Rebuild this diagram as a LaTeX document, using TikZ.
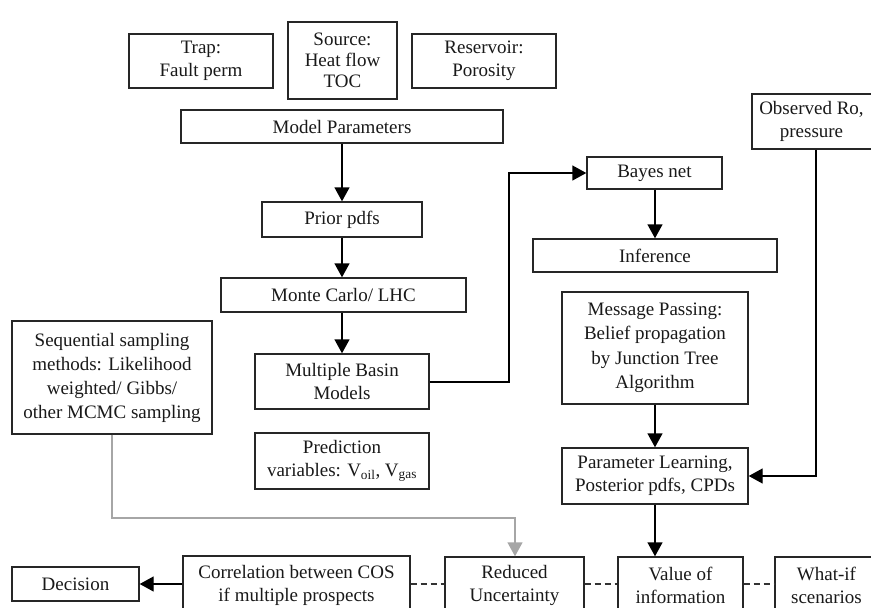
\documentclass[tikz,border=0pt]{standalone}
\usepackage{fontspec}
\setmainfont{Liberation Serif}
\usetikzlibrary{arrows.meta}
\tikzset{
  box/.style={draw=black!85, line width=1.4pt, fill=white, rectangle, inner sep=0pt, align=center,
    font=\fontsize{19}{23}\selectfont, text=black!90},
  arr/.style={draw=black, line width=1.4pt, -{Triangle[width=15pt,length=14pt]}},
  garr/.style={draw=black!35, line width=1.4pt, -{Triangle[width=15pt,length=14pt]}},
  dashln/.style={draw=black!80, line width=1.4pt, dash pattern=on 6pt off 4pt},
}
\newcommand{\bx}[7]{% name, x1, y1, x2, y2, extra, text
  \node[box, #6, minimum width={(#4)-(#2)}, minimum height={(#5)-(#3)}] (#1) at ({((#2)+(#4))/2},{((#3)+(#5))/2}) {#7};}
\begin{document}
\begin{tikzpicture}[x=1pt,y=-1pt]
\useasboundingbox (0,0) rectangle (871,608);
\clip (0,0) rectangle (871,608);
\bx{trap}{129}{34}{273}{88}{}{Trap:\\Fault perm}
\bx{source}{288}{22}{397}{99}{font=\fontsize{19}{21}\selectfont}{Source:\\Heat flow\\TOC}
\bx{reservoir}{412}{34}{556}{88}{}{Reservoir:\\Porosity}
\bx{model}{181}{110}{503}{143}{}{Model Parameters}
\bx{prior}{262}{202}{422}{237}{}{Prior pdfs}
\bx{mc}{221}{278}{466}{312}{}{Monte Carlo/ LHC}
\bx{mbm}{255}{354}{429}{409}{}{Multiple Basin\\Models}
\bx{pred}{255}{433}{429}{489}{}{Prediction\\variables: V\textsubscript{oil}, V\textsubscript{gas}}
\bx{seq}{12}{321}{212}{434}{font=\fontsize{19}{24}\selectfont}{Sequential sampling\\methods: Likelihood\\weighted/ Gibbs/\\other MCMC sampling}
\bx{bayes}{587}{157}{722}{189}{}{Bayes net}
\bx{infer}{533}{239}{777}{272}{}{Inference}
\bx{obs}{752}{94}{885}{149}{}{\hspace*{-14pt}Observed Ro,\\\hspace*{-14pt}pressure}
\bx{msg}{562}{292}{748}{404}{font=\fontsize{19}{24.5}\selectfont}{Message Passing:\\Belief propagation\\by Junction Tree\\Algorithm}
\bx{pl}{562}{448}{748}{504}{}{Parameter Learning,\\Posterior pdfs, CPDs}
\bx{decision}{12}{567}{139}{601}{}{Decision}
\bx{corr}{183}{556}{410}{614}{}{Correlation between COS\\if multiple prospects}
\bx{red}{445}{557}{584}{614}{}{Reduced\\Uncertainty}
\bx{voi}{618}{557}{743}{614}{}{Value of\\information}
\bx{whatif}{775}{557}{890}{614}{}{\hspace*{-12pt}What-if\\\hspace*{-12pt}scenarios}
% connectors
\coordinate (cx) at (342,0);
\draw[arr] (model.south -| cx) -- (prior.north -| cx);
\draw[arr] (prior.south -| cx) -- (mc.north -| cx);
\draw[arr] (mc.south -| cx) -- (mbm.north -| cx);
\coordinate (m1) at (509,382);
\coordinate (m2) at (509,173);
\draw[arr] (mbm.east |- m1) -- (m1) -- (m2) -- (bayes.west |- m2);
\coordinate (bx) at (655,0);
\draw[arr] (bayes.south -| bx) -- (infer.north -| bx);
\draw[arr] (msg.south -| bx) -- (pl.north -| bx);
\coordinate (o1) at (816,476);
\draw[arr] (obs.south -| o1) -- (o1) -- (pl.east |- o1);
\draw[arr] (pl.south -| bx) -- (voi.north -| bx);
\coordinate (g1) at (112,518);
\coordinate (g2) at (515,518);
\draw[garr] (seq.south -| g1) -- (g1) -- (g2) -- (red.north -| g2);
\coordinate (b) at (0,584);
\draw[arr] (corr.west |- b) -- (decision.east |- b);
\draw[dashln] (corr.east |- b) -- (red.west |- b);
\draw[dashln] (red.east |- b) -- (voi.west |- b);
\draw[dashln] (voi.east |- b) -- (whatif.west |- b);
\end{tikzpicture}
\end{document}
